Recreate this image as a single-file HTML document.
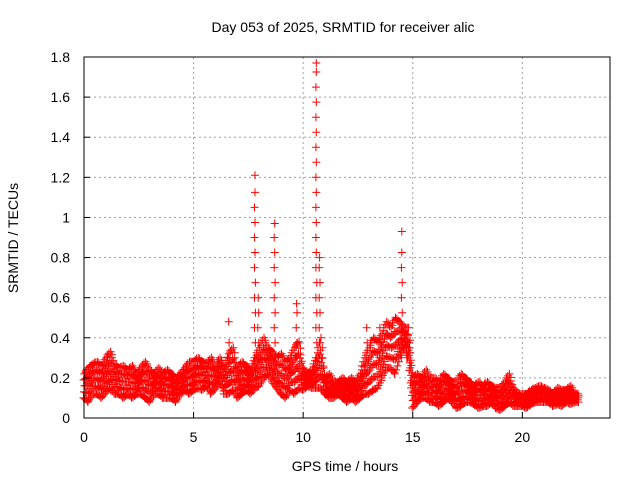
<!DOCTYPE html>
<html><head><meta charset="utf-8"><style>
body{margin:0;background:#fff;width:640px;height:480px;overflow:hidden}
svg text{font-family:"Liberation Sans",sans-serif;font-size:14px;fill:#000}
</style></head><body>
<svg id="chart" width="640" height="480" viewBox="0 0 640 480" xmlns="http://www.w3.org/2000/svg">
<text x="343" y="32" text-anchor="middle">Day 053 of 2025, SRMTID for receiver alic</text>
<text transform="translate(18,238) rotate(-90)" text-anchor="middle">SRMTID / TECUs</text>
<text x="345" y="471" text-anchor="middle">GPS time / hours</text>
<g id="grid"></g>
<g id="marks"></g>
<rect x="84" y="57" width="526" height="361" fill="none" stroke="#000" stroke-width="1"/>
<g id="ticks"></g>
</svg>
<script>
const xTicks=[0,5,10,15,20];
const yTicks=[0,0.2,0.4,0.6,0.8,1,1.2,1.4,1.6,1.8];
const yTickLabels=["0","0.2","0.4","0.6","0.8","1","1.2","1.4","1.6","1.8"];
const bandStep=0.2;
const bandLo=[.10,.08,.12,.12,.10, .13,.15,.12,.12,.10, .12,.10,.12,.12,.10, .08,.12,.12,.10,.10, .10,.08,.12,.14,.12, .14,.15,.14,.16,.12, .15,.18,.12,.12,.14, .10,.12,.14,.12,.15, .16,.20,.22,.18,.15, .12,.10,.14,.12,.15, .14,.16,.15,.15,.15, .12,.10,.10,.12,.10, .08,.10,.08,.10,.12, .12,.14,.15,.20,.25, .25,.22,.30,.35,.30, .05,.08,.10,.10,.08, .08,.06,.08,.10,.08, .05,.06,.08,.08,.07, .05,.06,.06,.08,.05, .04,.06,.08,.06,.06, .06,.05,.07,.08,.08, .08,.08,.06,.07,.06, .08,.07,.08];
const bandHi=[.22,.25,.27,.28,.26, .30,.33,.27,.25,.26, .24,.26,.22,.25,.28, .24,.22,.25,.22,.24, .22,.20,.22,.25,.28, .28,.30,.28,.27,.30, .26,.30,.25,.32,.35, .25,.28,.26,.24,.30, .35,.40,.35,.33,.30, .32,.28,.30,.35,.38, .25,.22,.24,.30,.40, .20,.22,.18,.18,.20, .18,.20,.18,.22,.30, .35,.40,.38,.42,.48, .45,.50,.48,.45,.45, .20,.22,.20,.24,.20, .20,.18,.22,.20,.18, .18,.22,.20,.18,.16, .18,.16,.18,.16,.15, .15,.18,.22,.15,.12, .12,.12,.14,.15,.16, .15,.14,.12,.15,.14, .14,.16,.12];
const spikeT=[6.6,7.8,7.95,8.7,9.7,10.6,10.75,12.9,13.5,14.5,14.75];
const spikeV=[.48,1.21,.60,.97,.57,1.77,.80,.45,.45,.93,.45];

const NS="http://www.w3.org/2000/svg";
const X=v=>84+v*(526/24);
const Y=v=>418-v*(361/1.8);
const grid=document.getElementById('grid'),ticks=document.getElementById('ticks'),marks=document.getElementById('marks');
function mk(tag,attrs,parent){const e=document.createElementNS(NS,tag);for(const k in attrs)e.setAttribute(k,attrs[k]);parent.appendChild(e);return e;}
xTicks.forEach(t=>{
  if(t>0){const g=mk('line',{x1:X(t),x2:X(t),y1:57,y2:418,stroke:'#a0a0a0','stroke-dasharray':'2,3'},grid);
  
  }
  const l=mk('line',{x1:X(t),x2:X(t),y1:418,y2:412,stroke:'#000'},ticks);
  
  
  const tx=mk('text',{x:X(t),y:442,'text-anchor':'middle'},ticks);tx.textContent=t;
  
  
});
yTicks.forEach((v,i)=>{
  if(v>0&&v<1.8){const g=mk('line',{x1:84,x2:610,y1:Y(v),y2:Y(v),stroke:'#a0a0a0','stroke-dasharray':'2,3'},grid);
  
  }
  const l=mk('line',{x1:84,x2:90,y1:Y(v),y2:Y(v),stroke:'#000'},ticks);
  
  
  const tx=mk('text',{x:70,y:Y(v)+5,'text-anchor':'end'},ticks);tx.textContent=yTickLabels[i];
  
  
});
let d='';
function plus(t,v){const x=X(t),y=Y(v);d+=`M${(x-4).toFixed(1)} ${y.toFixed(1)}h8M${x.toFixed(1)} ${(y-4).toFixed(1)}v8`;}
for(let i=0;i<bandLo.length;i++){
  const t=i*bandStep,lo=bandLo[i],hi=bandHi[i];
  const nxtLo=i+1<bandLo.length?bandLo[i+1]:lo, nxtHi=i+1<bandHi.length?bandHi[i+1]:hi;
  for(let s=0;s<4;s++){
    const f=s/4, tt=t+f*bandStep, l=lo+(nxtLo-lo)*f, h=hi+(nxtHi-hi)*f;
    for(let k=0;k<5;k++){const q=((k*3+s*2)%5)/4;plus(tt+(k-2)*0.012,l+(h-l)*q);}
  }
}
spikeT.forEach((t,i)=>{
  const peak=spikeV[i];
  for(let v=0.3;v<peak-0.04;v+=0.075)plus(t+((Math.round(v*100))%3-1)*0.02,v);
  plus(t,peak);
});
const p=mk('path',{d:d,stroke:'#ff0000','stroke-width':1,fill:'none'},marks);


</script>
</body></html>
